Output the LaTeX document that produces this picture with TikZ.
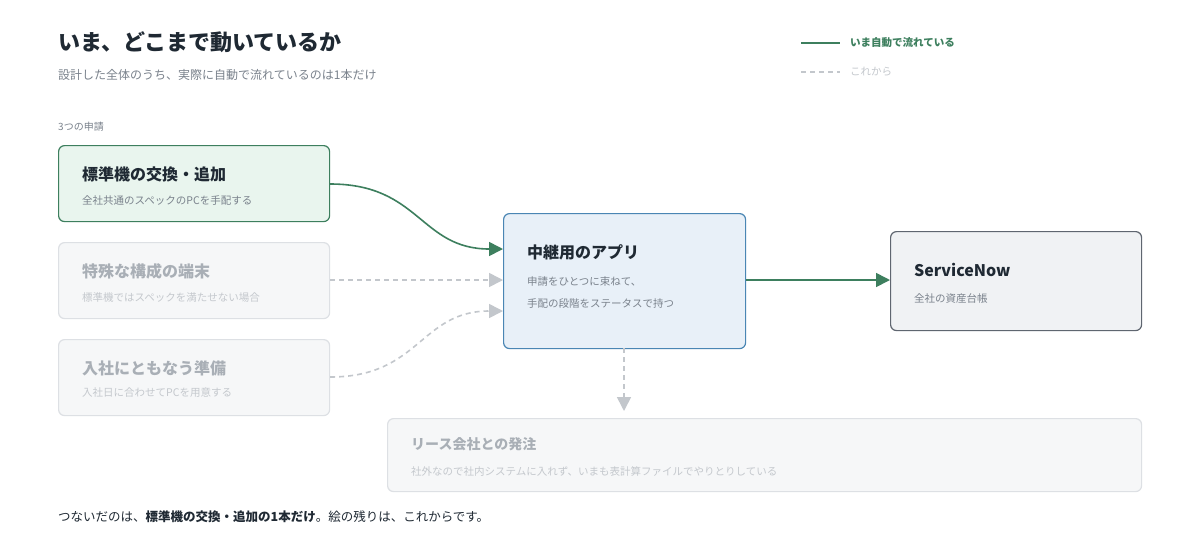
\documentclass[tikz,border=0pt]{standalone}
\usepackage{fontspec}
\setmainfont{Noto Sans CJK JP}
\usetikzlibrary{arrows.meta}
\definecolor{gline}{HTML}{3D7F5E}
\definecolor{gfill}{HTML}{E9F5EE}
\definecolor{dfill}{HTML}{F6F7F8}
\definecolor{dline}{HTML}{DDE0E4}
\definecolor{hfill}{HTML}{E8F0F8}
\definecolor{hline}{HTML}{4A86B4}
\definecolor{sfill}{HTML}{F0F2F4}
\definecolor{sline}{HTML}{5F6670}
\definecolor{ink}{HTML}{1F2933}
\definecolor{sub}{HTML}{7A828C}
\definecolor{faint}{HTML}{A9AFB6}
\definecolor{fainter}{HTML}{C4C8CD}
\definecolor{dashc}{HTML}{C3C7CC}
\begin{document}
\begin{tikzpicture}[x=1pt,y=-1pt,
  box/.style={draw, rounded corners=6pt, line width=1.2pt},
  t/.style={anchor=west, inner sep=0pt},
  live/.style={draw=gline, line width=1.6pt, -{Triangle[length=14pt,width=14pt]}},
  todo/.style={draw=dashc, line width=1.6pt, dash pattern=on 5pt off 4pt, -{Triangle[length=14pt,width=14pt]}}]
\useasboundingbox[fill=white] (0,0) rectangle (1200,542);
\node[t,text=ink,font=\fontsize{22}{26}\selectfont\bfseries] (title) at (58,42) {いま、どこまで動いているか};
\node[t,text=sub,font=\fontsize{12}{14}\selectfont] (subt) at (58,75) {設計した全体のうち、実際に自動で流れているのは1本だけ};
\node[t,text=sub,font=\fontsize{10}{12}\selectfont] (lab) at (58,127) {3つの申請};
% legend
\coordinate (l1a) at (801,43); \coordinate (l1b) at (840,43);
\draw[gline,line width=1.6pt] (l1a) -- (l1b);
\node[t,text=gline,font=\fontsize{10.5}{12}\selectfont\bfseries] (lg1) at (850,43) {いま自動で流れている};
\coordinate (l2a) at (801,72); \coordinate (l2b) at (840,72);
\draw[dashc,line width=1.6pt,dash pattern=on 5pt off 4pt] (l2a) -- (l2b);
\node[t,text=fainter,font=\fontsize{10.5}{12}\selectfont] (lg2) at (850,72) {これから};
% boxes
\node[box,draw=gline,fill=gfill,minimum width=271pt,minimum height=76pt,anchor=north west] (A) at (58,145) {};
\node[t,text=ink,font=\fontsize{16}{19}\selectfont\bfseries] at (82,174) {標準機の交換・追加};
\node[t,text=sub,font=\fontsize{10.5}{12}\selectfont] at (82,200) {全社共通のスペックのPCを手配する};
\node[box,draw=dline,fill=dfill,minimum width=271pt,minimum height=76pt,anchor=north west] (B) at (58,242) {};
\node[t,text=faint,font=\fontsize{16}{19}\selectfont\bfseries] at (82,271) {特殊な構成の端末};
\node[t,text=fainter,font=\fontsize{10.5}{12}\selectfont] at (82,297) {標準機ではスペックを満たせない場合};
\node[box,draw=dline,fill=dfill,minimum width=271pt,minimum height=76pt,anchor=north west] (C) at (58,339) {};
\node[t,text=faint,font=\fontsize{16}{19}\selectfont\bfseries] at (82,368) {入社にともなう準備};
\node[t,text=fainter,font=\fontsize{10.5}{12}\selectfont] at (82,393) {入社日に合わせてPCを用意する};
\node[box,draw=hline,fill=hfill,minimum width=242pt,minimum height=135pt,anchor=north west] (H) at (503,213) {};
\node[t,text=ink,font=\fontsize{16}{19}\selectfont\bfseries] at (527,252) {中継用のアプリ};
\node[t,text=sub,font=\fontsize{10.5}{12}\selectfont] at (527,282) {申請をひとつに束ねて、};
\node[t,text=sub,font=\fontsize{10.5}{12}\selectfont] at (527,304) {手配の段階をステータスで持つ};
\node[box,draw=sline,fill=sfill,minimum width=251pt,minimum height=99pt,anchor=north west] (S) at (890,231) {};
\node[t,text=ink,font=\fontsize{16}{19}\selectfont\bfseries] at (914,270) {ServiceNow};
\node[t,text=sub,font=\fontsize{10.5}{12}\selectfont] at (914,298) {全社の資産台帳};
\node[box,draw=dline,fill=dfill,minimum width=754pt,minimum height=73pt,anchor=north west] (L) at (387,418) {};
\node[t,text=faint,font=\fontsize{14}{17}\selectfont\bfseries] at (411,444) {リース会社との発注};
\node[t,text=fainter,font=\fontsize{10.5}{12}\selectfont] at (411,471) {社外なので社内システムに入れず、いまも表計算ファイルでやりとりしている};
% connectors
\draw[live] (A.east|-0,184) .. controls (420,184) and (420,249) .. (H.west|-0,249);
\draw[todo] (B.east|-0,280) -- (H.west|-0,280);
\draw[todo] (C.east|-0,377) .. controls (420,377) and (420,311) .. (H.west|-0,311);
\draw[live] (H.east|-0,280) -- (S.west|-0,280);
\draw[todo] (624,348) -- (624,411);
\node[t,text=ink,font=\fontsize{12.5}{15}\selectfont] (foot) at (58,517) {つないだのは、\textbf{標準機の交換・追加の1本だけ}。絵の残りは、これからです。};
\end{tikzpicture}
\end{document}
